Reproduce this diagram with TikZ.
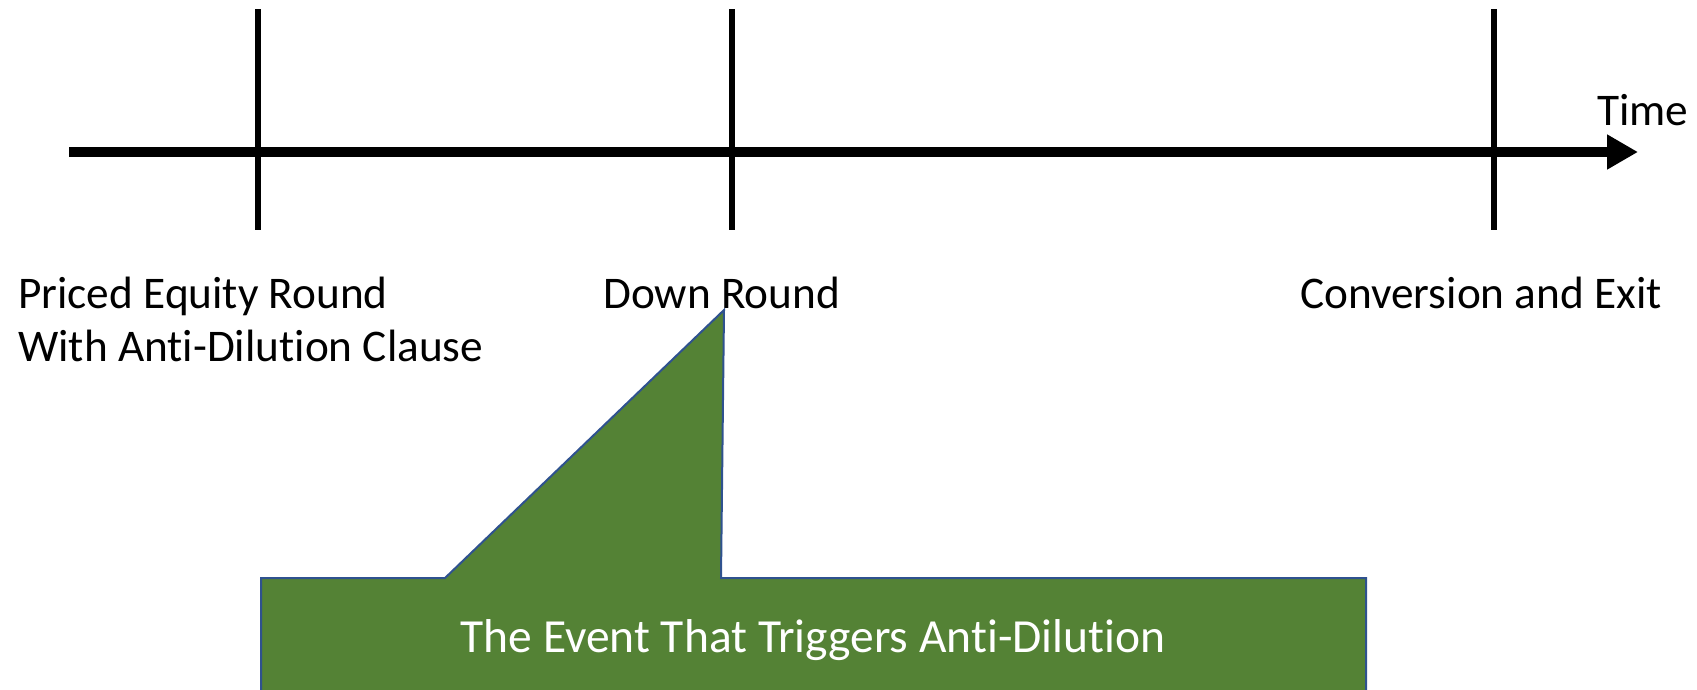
\documentclass[tikz,border=0pt]{standalone}
\usepackage{fontspec}
\setmainfont[Ligatures={NoCommon}]{Carlito}
\usetikzlibrary{arrows.meta}
\definecolor{calloutgreen}{HTML}{548235}
\definecolor{calloutblue}{HTML}{2F528F}
\tikzset{
  axisline/.style={line width=10pt, -{Triangle[length=31pt,width=33pt]}},
  tickline/.style={line width=6pt},
  lbl/.style={anchor=base west, inner sep=0pt, font=\fontsize{45.3}{52}\selectfont},
  callout/.style={fill=calloutgreen, draw=calloutblue, line width=2pt, line join=miter},
  callouttext/.style={anchor=base, inner sep=0pt, text=white, font=\fontsize{47.5}{56}\selectfont}
}
\begin{document}
\begin{tikzpicture}[x=1pt,y=-1pt]
\useasboundingbox (0,0) rectangle (1697,689);
\clip (0,0) rectangle (1697,689);
% axis
\coordinate (axstart) at (69,152);
\coordinate (axend) at (1638,152);
\draw[axisline] (axstart) -- (axend);
% ticks
\coordinate (t1a) at (257.5,9);  \coordinate (t1b) at (257.5,230);
\coordinate (t2a) at (731.5,9);  \coordinate (t2b) at (731.5,230);
\coordinate (t3a) at (1494,9);   \coordinate (t3b) at (1494,230);
\draw[tickline] (t1a) -- (t1b);
\draw[tickline] (t2a) -- (t2b);
\draw[tickline] (t3a) -- (t3b);
% labels
\node[lbl] (time) at (1597,125) {Time};
\node[lbl] (priced1) at (18,308) {Priced Equity Round};
\node[lbl] (priced2) at (18,361) {With Anti-Dilution Clause};
\node[lbl] (down) at (603,308) {Down Round};
\node[lbl] (conv) at (1300,308) {Conversion and Exit};
% callout
\draw[callout] (261,578) -- (445,578) -- (724,310) -- (721,578) -- (1366,578) -- (1366,720) -- (261,720) -- cycle;
\node[callouttext] (event) at (813,652) {The Event That Triggers Anti-Dilution};
\end{tikzpicture}
\end{document}
